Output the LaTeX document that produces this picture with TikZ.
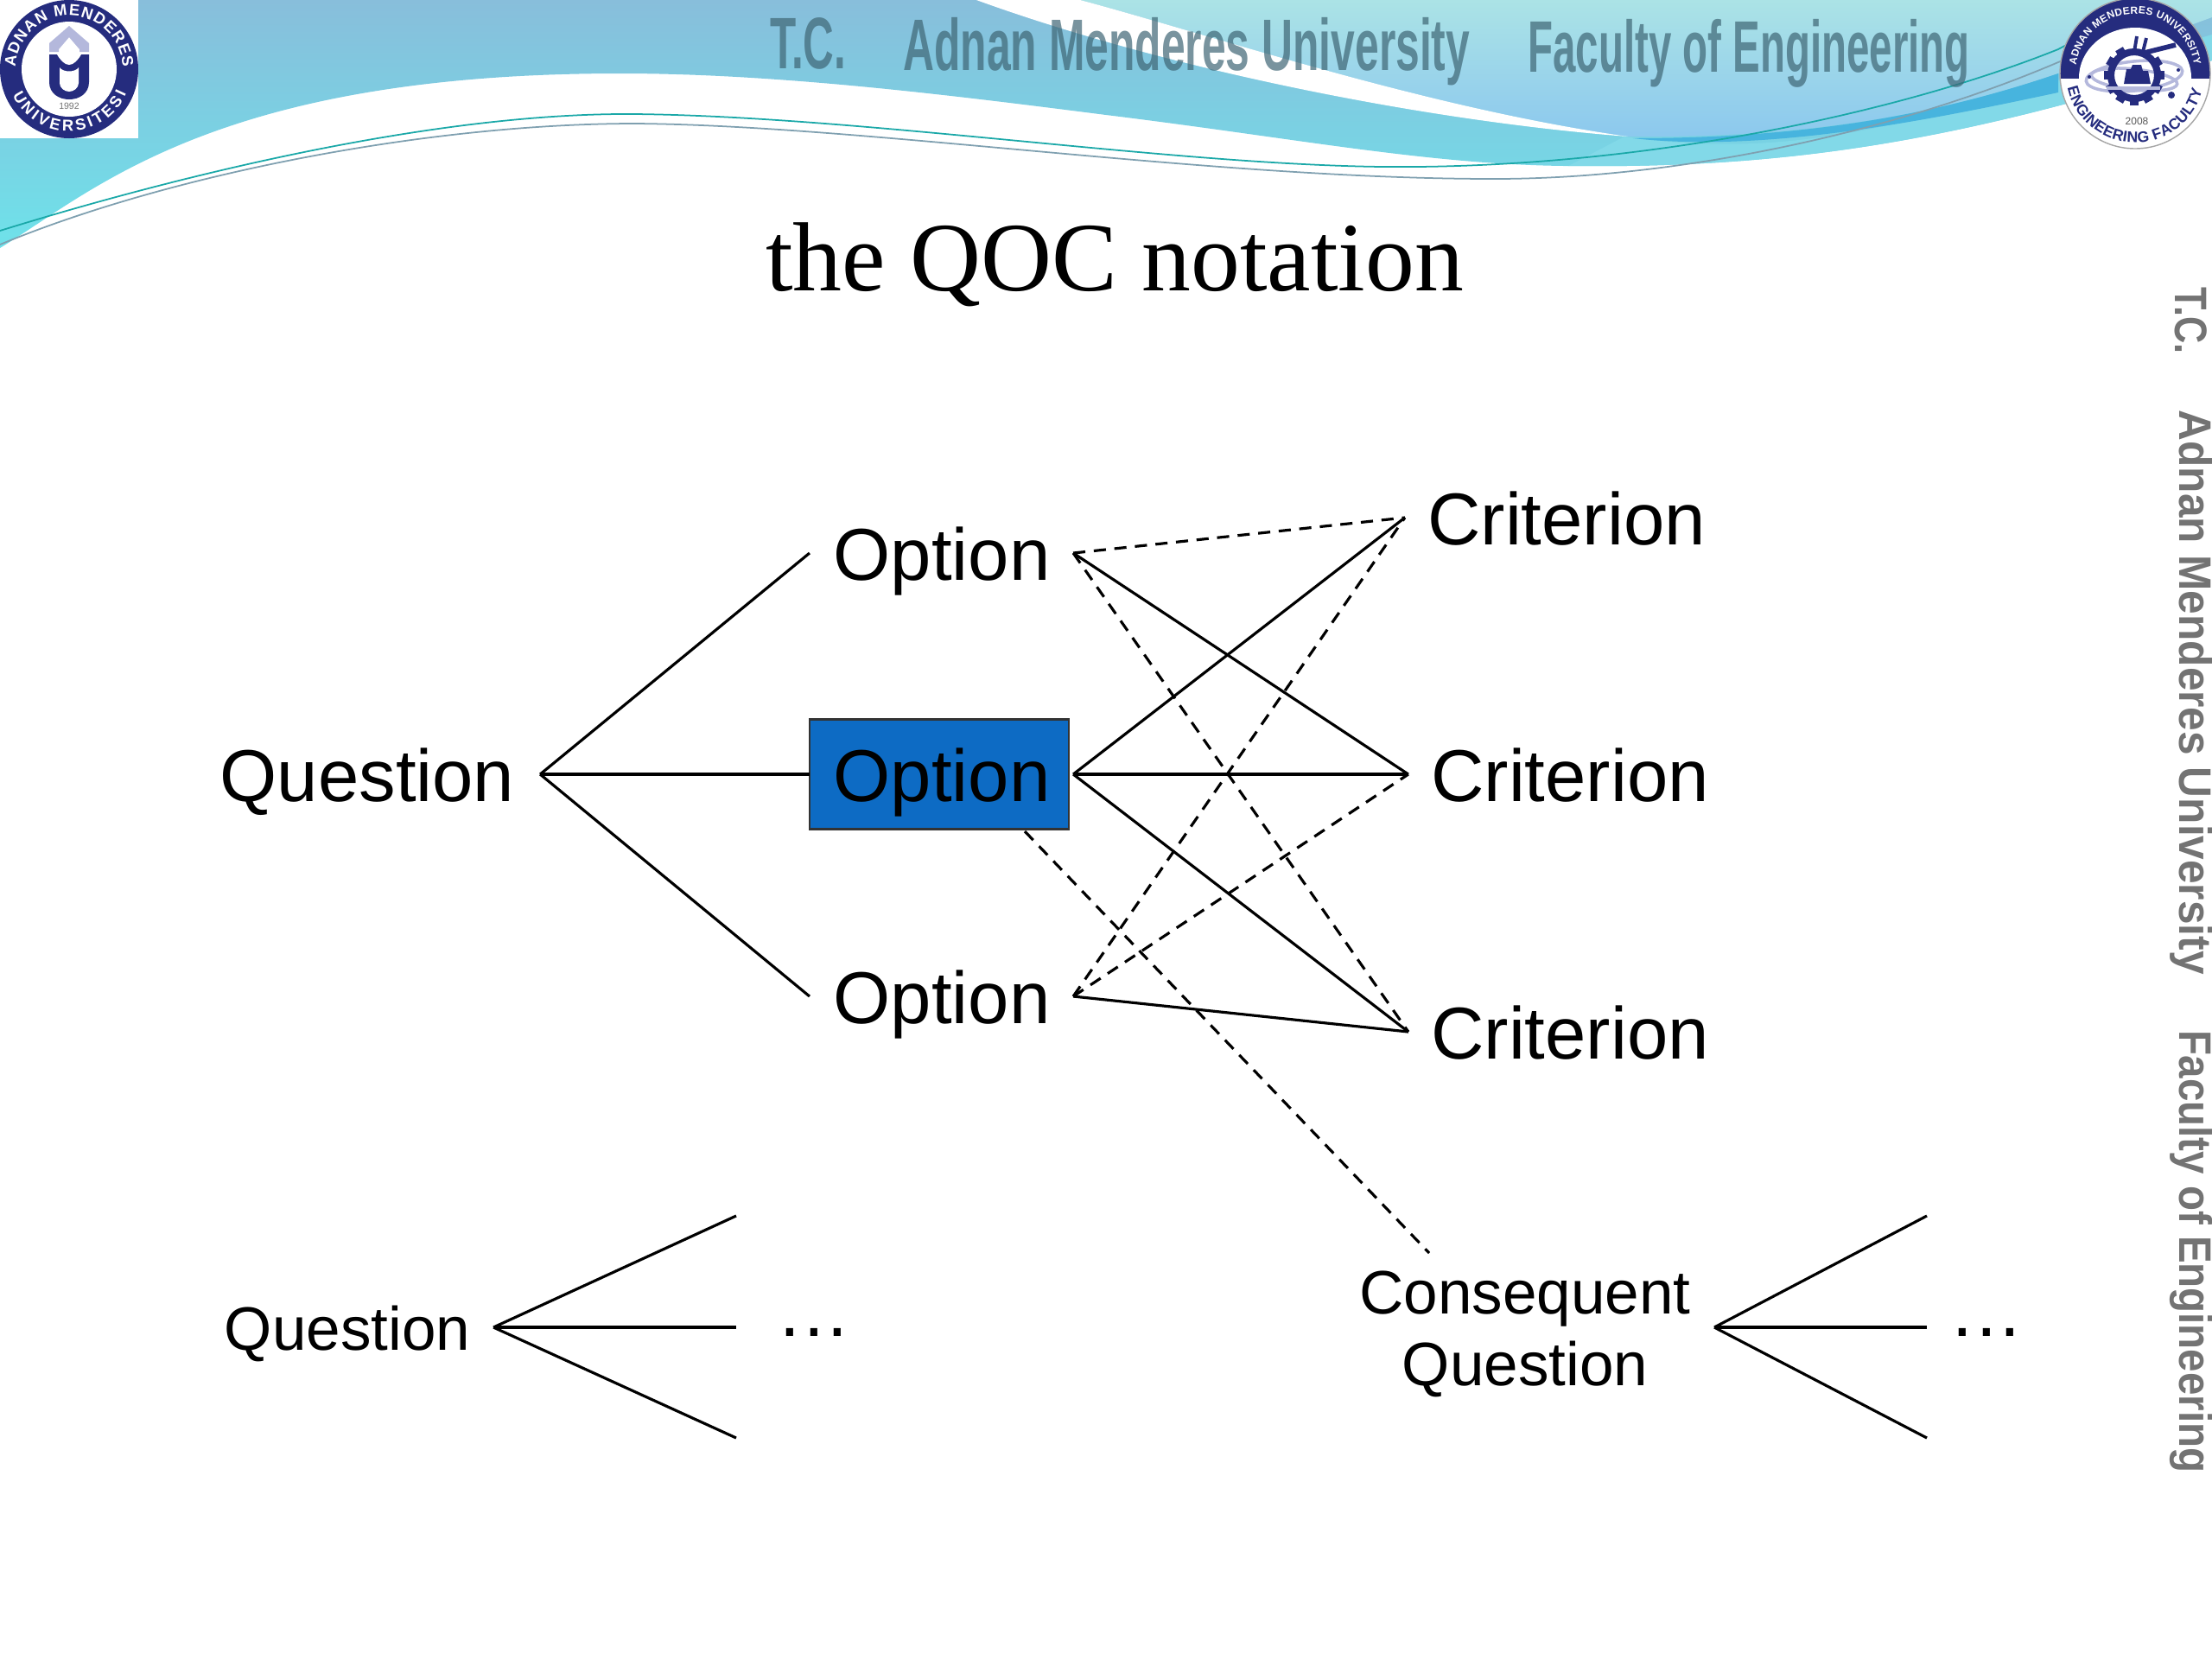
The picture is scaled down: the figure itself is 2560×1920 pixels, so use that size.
\documentclass[tikz,border=0pt]{standalone}
\usepackage{fontspec}
\setmainfont{Liberation Sans}
\newfontfamily\titlefont{Liberation Serif}
\usepackage{xcolor}
\usepackage{tikz}
\usetikzlibrary{positioning, calc, decorations.text}
\definecolor{optionblue}{HTML}{0D6BC4}
\definecolor{logonavy}{HTML}{252C7E}
\definecolor{bandteal}{HTML}{82D9E8}
\definecolor{banddeep}{HTML}{47B4DE}
\definecolor{bandtop}{HTML}{88BEDB}
\definecolor{bandlow}{HTML}{6EE2EA}
\definecolor{skytop}{HTML}{ABE3E6}
\definecolor{skylow}{HTML}{8CC8EE}
\definecolor{linegreen}{HTML}{1AA8A8}
\definecolor{linegray}{HTML}{7FA0B0}
\definecolor{bannertext}{HTML}{3F6675}
\definecolor{orbitlilac}{HTML}{B4B8DC}
\newcommand{\lowdots}{.\kern1.15pt.\kern1.15pt.}
\tikzset{
  bigtext/.style={font=\fontsize{24.2}{28}\selectfont, inner sep=0pt, outer sep=0pt, text height=18pt, text depth=0pt},
  smalltext/.style={font=\fontsize{20.2}{23.6}\selectfont, inner sep=0pt, outer sep=0pt, align=center},
  optionnode/.style={bigtext, minimum width=3cm, minimum height=1.27cm, execute at begin node=\kern1.7pt},
  criterionnode/.style={bigtext, minimum width=3.74cm},
  link/.style={line width=.9pt},
  dashlink/.style={line width=.9pt, dash pattern=on 4pt off 2.8pt},
  bannerlabel/.style={font=\fontsize{24}{28}\selectfont\bfseries, text=bannertext, opacity=.7, inner sep=0pt},
  sidelabel/.style={font=\fontsize{15}{18}\selectfont\bfseries, text=black!55, rotate=-90, inner sep=0pt}
}
\begin{document}
\begin{tikzpicture}[x=0.01cm, y=-0.01cm]
  \useasboundingbox (0,0) rectangle (2560,1920);

  % Banner
  \begin{scope}
    \clip (0,287) .. controls (110,220) and (250,85) .. (718,85)
      .. controls (900,85) and (1100,110) .. (1280,133)
      .. controls (1500,160) and (1650,190) .. (1810,192)
      .. controls (2050,195) and (2250,170) .. (2560,70) -- (2560,0) -- (0,0) -- cycle;
    \shade[top color=bandtop, bottom color=bandlow] (0,0) rectangle (2560,290);
    % light part over the sliver
    \fill[bandteal] (1880,158) .. controls (2100,190) and (2250,130) .. (2560,40) -- (2560,200) -- (1800,200) -- cycle;
    \shade[top color=skytop, bottom color=skylow]
      (1250,0) .. controls (1400,40) and (1650,125) .. (1884,158)
      .. controls (2100,160) and (2250,130) .. (2382,85) -- (2560,20) -- (2560,0) -- cycle;
    % white sliver
    \fill[white] (1250,0) .. controls (1400,40) and (1650,125) .. (1884,158)
      .. controls (1650,140) and (1350,80) .. (1130,0) -- cycle;
    % deep blue band
    \fill[banddeep] (1890,160) .. controls (2050,178) and (2250,135) .. (2382,107)
      -- (2382,85) .. controls (2250,130) and (2100,160) .. (1890,160) -- cycle;
  \end{scope}
  \draw[linegreen, line width=.5pt] (0,267) .. controls (200,205) and (500,130) .. (735,132)
    .. controls (1000,135) and (1350,190) .. (1600,193)
    .. controls (1900,196) and (2200,130) .. (2382,57) -- (2470,10);
  \draw[linegray, line width=.5pt] (0,283) .. controls (200,200) and (500,143) .. (735,143)
    .. controls (1000,145) and (1400,207) .. (1729,207)
    .. controls (1950,207) and (2200,150) .. (2382,72) -- (2500,25);

  \node[bannerlabel, anchor=west, xscale=.586] (tcTop) at (891,50) {T.C.};
  \node[bannerlabel, anchor=west, xscale=.59] (uniTop) at (1045,60) {Adnan Menderes University};
  \node[bannerlabel, anchor=west, xscale=.562] (facTop) at (1768,62) {Faculty of Engineering};

  \node[sidelabel, xscale=.82, anchor=west] (tcSide) at (2536,332) {T.C.};
  \node[sidelabel, xscale=.94, anchor=west] (uniSide) at (2536,474) {Adnan Menderes University};
  \node[sidelabel, xscale=.9, anchor=west] (facSide) at (2536,1192) {Faculty of Engineering};

  % Left logo
  \fill[white] (0,0) rectangle (160,160);
  \fill[logonavy] (80,80) circle (80);
  \fill[white] (80,80) circle (55);
  \begin{scope}[shift={(80,80)}, y=0.01cm]
    \path[postaction={decorate, decoration={text along path, text align={fit to path},
      text={|\fontsize{5.2}{6}\selectfont\bfseries\color{white}|ADNAN MENDERES}}}]
      (178:62) arc[start angle=178, end angle=2, radius=62];
    \path[postaction={decorate, decoration={text along path, text align={fit to path},
      text={|\fontsize{5.2}{6}\selectfont\bfseries\color{white}|UNIVERSITESI}}}]
      (205:72) arc[start angle=205, end angle=337, radius=72];
  \end{scope}
  \fill[orbitlilac] (80,30) -- (103,50) -- (103,60) -- (92,60) -- (92,57) -- (80,43)
    -- (68,57) -- (68,60) -- (57,60) -- (57,50) -- cycle;
  \fill[logonavy] (57,63) -- (103,63) -- (103,95) .. controls (103,108) and (92,115) .. (80,115)
    .. controls (68,115) and (57,108) .. (57,95) -- cycle;
  \fill[white] (66,63) .. controls (70,70) and (75,75) .. (80,75) .. controls (85,75) and (90,70) .. (94,63) -- cycle;
  \fill[white] (69,78) .. controls (73,84) and (87,84) .. (91,78) -- (91,96)
    .. controls (91,102) and (85,106) .. (80,106) .. controls (75,106) and (69,102) .. (69,96) -- cycle;
  \node[font=\fontsize{3}{3}\selectfont, text=black!55, inner sep=0pt] (yearLeft) at (80,123) {1992};

  % Right logo
  \fill[white] (2471,85) circle (87);
  \begin{scope}
    \clip (2380,-5) rectangle (2562,90);
    \fill[logonavy] (2471,85) circle (87);
  \end{scope}
  \fill[white] (2471,90) ellipse (65 and 58);
  \draw[black!35, line width=.4pt] (2471,85) circle (87);
  \begin{scope}[shift={(2471,85)}, y=0.01cm]
    \path[postaction={decorate, decoration={text along path, text align={fit to path},
      text={|\fontsize{3.4}{4}\selectfont\bfseries\color{white}|ADNAN MENDERES UNIVERSITY}}}]
      (172:69) arc[start angle=172, end angle=8, radius=69];
    \path[postaction={decorate, decoration={text along path, text align={fit to path},
      text={|\fontsize{5}{6}\selectfont\bfseries\color{logonavy}|ENGINEERING FACULTY}}}]
      (192:80) arc[start angle=192, end angle=346, radius=80];
  \end{scope}
  % gear emblem
  \draw[orbitlilac, line width=1pt, rotate around={6:(2470,88)}] (2470,88) ellipse (56 and 17);
  \draw[orbitlilac, line width=1pt, rotate around={-6:(2470,92)}] (2470,92) ellipse (50 and 12);
  \draw[logonavy, line width=2.3pt] (2470,87) circle (27);
  \foreach \gearangle in {120,150,...,390} {
    \fill[logonavy, rotate around={\gearangle:(2470,87)}] (2495,82) rectangle (2505,92);
  }
  \draw[logonavy, line width=1.6pt] (2478,62) -- (2518,52);
  \draw[logonavy, line width=1.1pt] (2473,42) -- (2470,60) (2484,44) -- (2480,60);
  \fill[logonavy] (2458,97) -- (2461,80) -- (2466,80) -- (2468,75) -- (2478,75) -- (2480,82) -- (2486,82) -- (2489,97) -- cycle;
  \fill[logonavy] (2513,110) circle (4) (2418,89) circle (2) (2521,81) circle (2);
  \fill[orbitlilac] (2438,100) -- (2500,100) -- (2500,104) -- (2438,104) -- cycle;
  \node[font=\fontsize{3.4}{4}\selectfont, text=black!65, inner sep=0pt] (yearRight) at (2473,140) {2008};

  % Title
  \node[font=\titlefont\fontsize{32.3}{38}\selectfont, inner sep=0pt] (titleText) at (1290,306) {the QOC notation};

  % Upper tree
  \node[bigtext, minimum width=4cm] (questionTop) at (425,896) {Question};
  \node[optionnode] (optionA) at (1087,640) {Option};
  \node[optionnode, draw=black!80, fill=optionblue, line width=.7pt] (optionB) at (1087,896) {Option};
  \node[optionnode] (optionC) at (1087,1153) {Option};
  \node[criterionnode] (critA) at (1813,599) {Criterion};
  \node[criterionnode] (critB) at (1817,896) {Criterion};
  \node[criterionnode] (critC) at (1817,1194) {Criterion};

  \draw[link] (questionTop.east) -- (optionA.west);
  \draw[link] (questionTop.east) -- (optionB.west);
  \draw[link] (questionTop.east) -- (optionC.west);

  \draw[dashlink] ($(optionA.east)+(5,0)$) -- (critA.west);
  \draw[link] ($(optionA.east)+(5,0)$) -- (critB.west);
  \draw[dashlink] ($(optionA.east)+(5,0)$) -- (critC.west);
  \draw[link] ($(optionB.east)+(5,0)$) -- (critA.west);
  \draw[link] ($(optionB.east)+(5,0)$) -- (critB.west);
  \draw[link] ($(optionB.east)+(5,0)$) -- (critC.west);
  \draw[dashlink] ($(optionC.east)+(5,0)$) -- (critA.west);
  \draw[dashlink] ($(optionC.east)+(5,0)$) -- (critB.west);
  \draw[link] ($(optionC.east)+(5,0)$) -- (critC.west);

  % Lower trees
  \node[smalltext, minimum width=3.38cm, text height=14.8pt, text depth=0pt] (questionLow) at (402,1536) {Question};
  \node[smalltext] (consequent) at (1765,1544) {Consequent\\Question};
  \coordinate (consequentIn) at (1654,1450);
  \coordinate (optionOut) at (1186,962);
  \draw[dashlink] (optionOut) -- (consequentIn);

  \coordinate (lowA) at (852,1407);
  \coordinate (lowB) at (852,1536);
  \coordinate (lowC) at (852,1664);
  \node[font=\fontsize{24.2}{28}\selectfont, inner sep=0pt, anchor=base] (dotsLeft) at (942,1546) {\lowdots};
  \draw[link] (questionLow.east) -- (lowA);
  \draw[link] (questionLow.east) -- (lowB);
  \draw[link] (questionLow.east) -- (lowC);

  \coordinate (apex) at (1984,1536);
  \coordinate (highA) at (2230,1407);
  \coordinate (highB) at (2230,1536);
  \coordinate (highC) at (2230,1664);
  \node[font=\fontsize{24.2}{28}\selectfont, inner sep=0pt, anchor=base] (dotsRight) at (2299,1546) {\lowdots};
  \draw[link] (apex) -- (highA);
  \draw[link] (apex) -- (highB);
  \draw[link] (apex) -- (highC);
\end{tikzpicture}
\end{document}
